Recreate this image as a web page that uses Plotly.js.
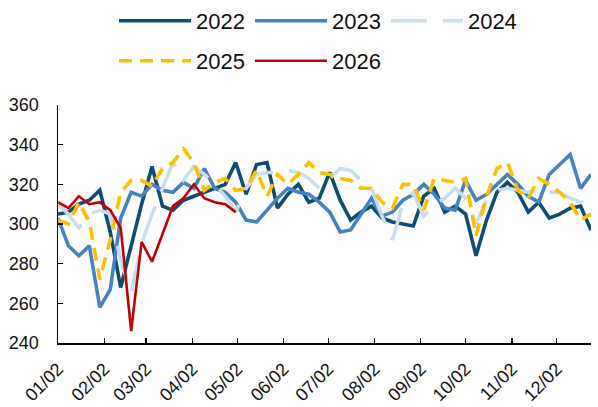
<!DOCTYPE html>
<html>
<head>
<meta charset="utf-8">
<script src="https://cdn.plot.ly/plotly-3.0.1.min.js"></script>
<style>
  html, body { margin: 0; padding: 0; background: #ffffff; }
  #chart { width: 598px; height: 407px; }
</style>
</head>
<body>
<div id="chart"></div>
<script>
// Weekly observation dates (shared seasonal axis, month/day only shown)
var weeks = ["2022-01-02","2022-01-09","2022-01-16","2022-01-23","2022-01-30",
  "2022-02-06","2022-02-13","2022-02-20","2022-02-27",
  "2022-03-06","2022-03-13","2022-03-20","2022-03-27",
  "2022-04-03","2022-04-10","2022-04-17","2022-04-24",
  "2022-05-01","2022-05-08","2022-05-15","2022-05-22","2022-05-29",
  "2022-06-05","2022-06-12","2022-06-19","2022-06-26",
  "2022-07-03","2022-07-10","2022-07-17","2022-07-24","2022-07-31",
  "2022-08-07","2022-08-14","2022-08-21","2022-08-28",
  "2022-09-04","2022-09-11","2022-09-18","2022-09-25",
  "2022-10-02","2022-10-09","2022-10-16","2022-10-23","2022-10-30",
  "2022-11-06","2022-11-13","2022-11-20","2022-11-27",
  "2022-12-04","2022-12-11","2022-12-18","2022-12-25"];

var v2022 = [305,306,310,312,317,296,268,289,310,329,309,307,312,314,316,318,320,331,315,330,
  331,308,315,320,311,313,326,312,302,306,309,303,301,300,299,314,318,306,309,305,
  284,302,316,321,316,306,311,303,305,308,309,297];
var v2023 = [303,289,284,289,258,267,303,316,314,320,317,316,321,318,328,318,316,311,302,301,
  307,313,318,316,315,311,306,296,297,305,313,304,306,312,315,320,315,308,307,322,
  312,315,320,325,320,314,311,325,330,335,318,325];
var v2024 = [310,305,298,305,307,305,282,265,290,305,318,331,322,329,325,320,314,306,318,325,
  326,326,327,326,323,318,323,328,327,322,318,304,292,310,316,304,310,313,318,313,
  300,312,317,318,317,316,317,316,316,313,311,309];
var v2025 = [302,300,311,301,272,292,316,322,322,319,328,331,338,331,317,321,323,317,318,327,
  314,325,320,325,331,326,325,323,322,318,318,311,308,320,320,307,323,322,321,323,
  294,314,328,331,317,313,323,320,316,311,302,305];
var v2026 = [311,308,314,310,311,307,298,246,291,281,295,309,313,320,313,311,310,306];

var tickDates = ["2022-01-02","2022-02-02","2022-03-02","2022-04-02","2022-05-02","2022-06-02",
  "2022-07-02","2022-08-02","2022-09-02","2022-10-02","2022-11-02","2022-12-02"];
var tickLabels = ["01/02","02/02","03/02","04/02","05/02","06/02",
  "07/02","08/02","09/02","10/02","11/02","12/02"];
var yTicks = [240,260,280,300,320,340,360];

var FONT = "Arial, 'Liberation Sans', sans-serif";

var traces = [
  {name:"2022", y:v2022, x:weeks, line:{color:"#0F4C72", width:3.6}, legend:"legend"},
  {name:"2023", y:v2023, x:weeks, line:{color:"#4682C2", width:3.6}, legend:"legend"},
  {name:"2024", y:v2024, x:weeks, line:{color:"#C9DDF0", width:3.6, dash:"36px,16px"}, legend:"legend"},
  {name:"2025", y:v2025, x:weeks, line:{color:"#FFC000", width:3.6, dash:"13px,8px"}, legend:"legend2"},
  {name:"2026", y:v2026, x:weeks.slice(0, v2026.length), line:{color:"#C00000", width:2.6}, legend:"legend2"}
].map(function(t){ t.type="scatter"; t.mode="lines"; t.hoverinfo="skip"; return t; });

var legendBase = {
  orientation:"h", xref:"container", yref:"container", xanchor:"left", yanchor:"top",
  font:{family:FONT, size:22, color:"#111"}, itemwidth:72, bgcolor:"rgba(0,0,0,0)",
  traceorder:"normal", itemclick:false, itemdoubleclick:false
};

var layout = {
  width:598, height:407,
  margin:{l:58, r:7, t:105, b:64},
  paper_bgcolor:"#ffffff", plot_bgcolor:"#ffffff",
  font:{family:FONT, color:"#111"},
  showlegend:true,
  legend:Object.assign({}, legendBase, {x:114/598, y:1-0/407}),
  legend2:Object.assign({}, legendBase, {x:114/598, y:1-40/407}),
  xaxis:{
    type:"date", range:["2022-01-02","2022-12-25"],
    tickvals:tickDates, ticktext:tickLabels, tickangle:-45,
    ticks:"inside", ticklen:5, tickwidth:1.3, tickcolor:"#000",
    showline:true, linecolor:"#000", linewidth:1.5,
    showgrid:false, zeroline:false, ticklabelstandoff:7,
    tickfont:{family:FONT, size:18, color:"#111"}
  },
  yaxis:{
    range:[240,360], tickvals:yTicks,
    ticks:"inside", ticklen:5, tickwidth:1.3, tickcolor:"#000",
    showline:true, linecolor:"#000", linewidth:1.5,
    showgrid:false, zeroline:false, ticklabelstandoff:14,
    tickfont:{family:FONT, size:18, color:"#111"}
  }
};

Plotly.newPlot("chart", traces, layout, {staticPlot:true, displayModeBar:false});
</script>
</body>
</html>
